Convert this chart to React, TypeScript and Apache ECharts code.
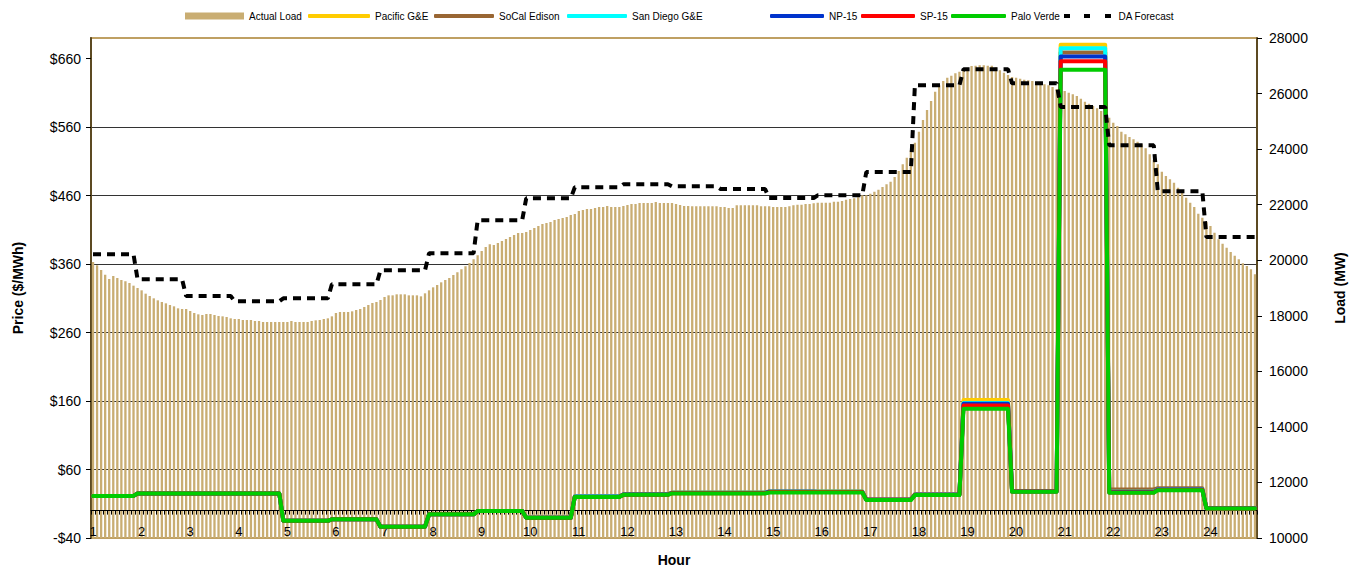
import React, { useEffect, useRef } from "react";
import * as echarts from "echarts";

const HOUR_LABELS = ["1","2","3","4","5","6","7","8","9","10","11","12","13","14","15","16","17","18","19","20","21","22","23","24"];
const INTERVALS_PER_HOUR = 12;

// Actual load (MW), 5-minute intervals
const ACTUAL_LOAD = [
  19936,19816,19648,19480,19324,19432,19360,19288,19240,19180,19084,19000,
  18916,18796,18712,18628,18556,18496,18448,18388,18340,18268,18244,18244,
  18172,18100,18052,18028,18064,18064,18028,17992,17980,17956,17908,17884,
  17884,17848,17848,17848,17812,17812,17776,17776,17776,17776,17776,17776,
  17776,17812,17776,17776,17776,17776,17812,17836,17848,17884,17908,17980,
  18100,18136,18136,18136,18160,18208,18244,18316,18388,18460,18496,18568,
  18676,18736,18736,18772,18772,18772,18736,18736,18736,18700,18808,18916,
  19024,19108,19204,19288,19360,19468,19564,19672,19780,19900,20032,20176,
  20332,20476,20572,20548,20620,20692,20764,20836,20908,20980,20980,21016,
  21088,21160,21232,21304,21340,21376,21448,21484,21520,21556,21628,21664,
  21772,21808,21844,21844,21880,21916,21916,21952,21916,21916,21916,21952,
  21988,22024,22024,22060,22060,22060,22060,22096,22060,22060,22060,22060,
  22024,21988,21952,21952,21940,21940,21940,21940,21940,21940,21940,21916,
  21916,21880,21880,21976,21976,21976,21976,21976,21976,21940,21940,21940,
  21916,21916,21916,21916,21940,21976,22000,22000,22024,22024,22048,22072,
  22072,22072,22072,22108,22108,22132,22180,22204,22228,22264,22336,22336,
  22396,22468,22540,22636,22732,22828,22996,23212,23452,23692,23956,24232,
  24628,25048,25408,25732,26068,26296,26452,26572,26644,26728,26788,26836,
  26932,26992,27004,27016,27016,27004,27004,26944,26836,26752,26668,26596,
  26572,26536,26500,26476,26452,26404,26368,26332,26296,26236,26164,26128,
  26092,26032,25972,25912,25816,25708,25636,25552,25468,25372,25276,25132,
  24952,24832,24628,24532,24436,24352,24268,24172,24028,23812,23620,23452,
  23188,23032,22912,22792,22612,22432,22252,22072,21916,21676,21532,21388,
  21232,20992,20752,20596,20452,20296,20164,20032,19888,19792,19672,19492
];

// Hourly prices ($/MWh)
const PACIFIC_GE = [21.5,25,25,25,-14.8,-12.8,-23.5,-5.5,-0.7,-10.5,20.5,23.5,26,26,27.5,27.5,16,23.4,161.5,28,680,27.5,31,3.5];
const SOCAL_EDISON = [21.5,25,25,25,-14.8,-12.8,-23.5,-5.5,-0.7,-10.5,20.8,24,26.3,26.3,28,28,16.2,23.8,155,28.5,669,30.8,32.7,3.5];
const SAN_DIEGO_GE = [21.5,25,25,25,-14.8,-12.8,-23.5,-5.5,-0.7,-10.5,20.5,23.5,26,26,27.5,27.5,16,23.4,157,28,675,27.5,31,3.5];
const NP15 = [21.5,25,25,25,-14.8,-12.8,-23.5,-5.5,-0.7,-10.5,20.3,23.5,25.8,25.8,27.5,27.3,16,23.2,156,28,663,27,30.8,3.5];
const SP15 = [21.5,25,25,25,-14.8,-12.8,-23.5,-5.5,-0.7,-10.5,20,23,25.5,25.5,27,27,15.8,23,153.5,27.8,656,26.5,30.3,3.2];
const PALO_VERDE = [21.5,25,25,25,-14.8,-12.8,-23.5,-5.5,-0.7,-10.5,20,23,25,25,26.5,26.5,15.3,22.6,148.7,27.4,643.7,26,29.8,3.2];

// Hourly day-ahead load forecast (MW)
const DA_FORECAST = [20213,19313,18712,18520,18627,19133,19637,20249,21437,22229,22625,22733,22661,22564,22240,22337,23176,26297,26873,26367,25516,24137,22481,20836];

const PRICE_TICKS = [-40, 60, 160, 260, 360, 460, 560, 660];

const CATEGORIES = ACTUAL_LOAD.map((_, i) => String(i));
const expandHourly = (hourly: number[]) =>
  ACTUAL_LOAD.map((_, i) => hourly[Math.min(hourly.length - 1, Math.floor((i + 1) / INTERVALS_PER_HOUR))]);

const FONT = "'Liberation Sans', Arial, sans-serif";

export default function App() {
  const ref = useRef<HTMLDivElement>(null);
  useEffect(() => {
    if (!ref.current) return;
    const chart = echarts.init(ref.current, null, { renderer: "svg" });

    const lineSeries = (name: string, color: string, hourly: number[]) => ({
      name,
      type: "line",
      yAxisIndex: 0,
      data: expandHourly(hourly),
      symbol: "none",
      showSymbol: false,
      z: 4,
      itemStyle: { color },
      lineStyle: { color, width: 4, cap: "round", join: "round" },
      emphasis: { disabled: true },
    });

    const legendBase = {
      top: 11,
      padding: 0,
      itemGap: 0,
      selectedMode: false,
      textStyle: { fontSize: 10, color: "#000", fontFamily: FONT },
    };
    const legends = [
      { name: "Actual Load", left: 185, w: 59, h: 7, icon: "rect" },
      { name: "Pacific G&E", left: 308, w: 62, h: 4, icon: "roundRect" },
      { name: "SoCal Edison", left: 434, w: 60, h: 4, icon: "roundRect" },
      { name: "San Diego G&E", left: 567, w: 60, h: 4, icon: "roundRect" },
      { name: "NP-15", left: 770, w: 54, h: 4, icon: "roundRect" },
      { name: "SP-15", left: 861, w: 54, h: 4, icon: "roundRect" },
      { name: "Palo Verde", left: 951, w: 55, h: 4, icon: "roundRect" },
      { name: "DA Forecast", left: 1064, w: 52, h: 4, icon: "path://M0,0H6V4H0Z M20,0H26V4H20Z M41,0H47V4H41Z" },
    ].map((l) => ({
      ...legendBase,
      left: l.left,
      itemWidth: l.w,
      itemHeight: l.h,
      data: [{ name: l.name, icon: l.icon }],
    }));

    chart.setOption({
      animation: false,
      textStyle: { fontFamily: FONT },
      legend: legends,
      grid: {
        left: 91,
        right: 105,
        top: 38,
        bottom: 29,
        containLabel: false,
        outerBoundsMode: "none",
        show: true,
        backgroundColor: "#fff",
        borderColor: "#BFA063",
        borderWidth: 2,
      },
      xAxis: {
        type: "category",
        data: CATEGORIES,
        z: 3,
        axisLine: { onZero: true, lineStyle: { color: "#000", width: 1 } },
        axisTick: { show: true, interval: 0, length: 4, lineStyle: { color: "#000" } },
        axisLabel: {
          interval: INTERVALS_PER_HOUR - 1,
          margin: -13,
          fontSize: 13,
          color: "#000",
          formatter: (v: string) => HOUR_LABELS[Math.floor(Number(v) / INTERVALS_PER_HOUR)],
        },
        name: "Hour",
        nameLocation: "middle",
        nameGap: 15,
        nameMoveOverlap: false,
        nameTextStyle: { fontSize: 14, fontWeight: "bold", color: "#000" },
        splitLine: { show: false },
      },
      yAxis: [
        {
          type: "value",
          min: PRICE_TICKS[0],
          max: 690,
          interval: 100,
          position: "left",
          axisLine: { show: true, lineStyle: { color: "#5C4A22", width: 2 } },
          axisTick: { show: true, length: 5, lineStyle: { color: "#000" }, customValues: PRICE_TICKS },
          axisLabel: {
            fontSize: 14,
            color: "#000",
            margin: 10,
            customValues: PRICE_TICKS,
            formatter: (v: number) => (v > PRICE_TICKS[PRICE_TICKS.length - 1] ? "" : v < 0 ? "-$" + -v : "$" + v),
          },
          splitLine: { show: true, showMinLine: false, showMaxLine: false, lineStyle: { color: "#333", width: 1 } },
          name: "Price ($/MWh)",
          nameLocation: "middle",
          nameGap: 66,
          nameTextStyle: { fontSize: 14, fontWeight: "bold", color: "#000" },
        },
        {
          type: "value",
          min: 10000,
          max: 28000,
          interval: 2000,
          position: "right",
          axisLine: { show: true, lineStyle: { color: "#5C4A22", width: 2 } },
          axisTick: { show: true, length: 5, lineStyle: { color: "#000" } },
          axisLabel: { fontSize: 14, color: "#000", margin: 12, formatter: (v: number) => String(v) },
          splitLine: { show: false },
          name: "Load (MW)",
          nameLocation: "middle",
          nameGap: 76,
          nameTextStyle: { fontSize: 14, fontWeight: "bold", color: "#000" },
        },
      ],
      series: [
        {
          name: "Actual Load",
          type: "bar",
          yAxisIndex: 1,
          data: ACTUAL_LOAD,
          barWidth: "57%",
          z: 2,
          itemStyle: { color: "#C9AD72" },
          emphasis: { disabled: true },
        },
        lineSeries("Pacific G&E", "#FFCC00", PACIFIC_GE),
        lineSeries("SoCal Edison", "#996633", SOCAL_EDISON),
        lineSeries("San Diego G&E", "#00FFFF", SAN_DIEGO_GE),
        lineSeries("NP-15", "#0033CC", NP15),
        lineSeries("SP-15", "#FF0000", SP15),
        lineSeries("Palo Verde", "#00CC00", PALO_VERDE),
        {
          name: "DA Forecast",
          type: "line",
          yAxisIndex: 1,
          data: expandHourly(DA_FORECAST),
          symbol: "none",
          showSymbol: false,
          z: 5,
          itemStyle: { color: "#000" },
          lineStyle: { color: "#000", width: 4, type: [8, 6], cap: "butt" },
          emphasis: { disabled: true },
        },
      ],
    });
    return () => chart.dispose();
  }, []);

  return (
    <div
      ref={ref}
      style={{ position: "fixed", left: 0, top: 0, width: 1362, height: 567, background: "#fff" }}
    />
  );
}
